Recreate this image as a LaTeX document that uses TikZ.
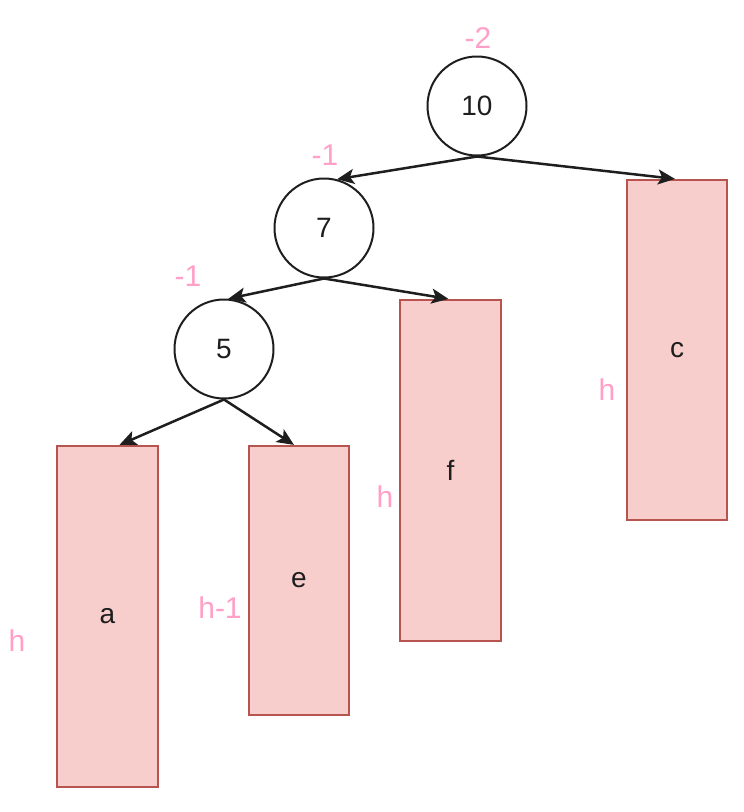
\documentclass[tikz,border=0pt]{standalone}
\usepackage{fontspec}
\setmainfont{Liberation Sans}
\usetikzlibrary{arrows.meta,calc}
\definecolor{rfill}{HTML}{F8CECC}
\definecolor{rdraw}{HTML}{B85450}
\definecolor{pinktext}{RGB}{255,160,200}
\definecolor{ink}{RGB}{30,30,30}
\begin{document}
\begin{tikzpicture}[x=1pt,y=-1pt,
  treenode/.style={circle,draw=ink,line width=2pt,minimum size=99pt,inner sep=0pt,text=ink,font=\fontsize{28}{32}\selectfont},
  subtree/.style={rectangle,draw=rdraw,fill=rfill,line width=2.2pt,inner sep=0pt,text=ink,font=\fontsize{28}{32}\selectfont},
  hlabel/.style={text=pinktext,font=\fontsize{30}{34}\selectfont,inner sep=0pt},
  edge/.style={draw=ink,line width=2.5pt,-{Stealth[length=17pt,width=15pt,inset=4pt]}}]
\useasboundingbox (0,0) rectangle (744,812);
% circles
\node[treenode] (n10) at (477,106) {10};
\node[treenode] (n7) at (324,228) {7};
\node[treenode] (n5) at (224,349) {5};
% subtrees
\node[subtree,minimum width=100pt,minimum height=340pt] (c) at (677,350) {c};
\node[subtree,minimum width=101pt,minimum height=341pt] (f) at (450.5,470.5) {f};
\node[subtree,minimum width=100pt,minimum height=269pt] (e) at (299,580.5) {e};
\node[subtree,minimum width=101pt,minimum height=341pt] (a) at (107.5,616.5) {a};
% labels
\node[hlabel] (l10) at (478,38) {-2};
\node[hlabel] (l7) at (325,155) {-1};
\node[hlabel] (l5) at (188,276) {-1};
\node[hlabel] (hc) at (607,390) {h};
\node[hlabel] (hf) at (385,497) {h};
\node[hlabel] (he) at (220,608) {h-1};
\node[hlabel] (ha) at (17,641) {h};
% edges
\draw[edge] (n10.south) -- (n7.75);
\draw[edge] (n10.south) -- ($(c.north)+(-2,0)$);
\draw[edge] (n7.south) -- (n5.85);
\draw[edge] (n7.south) -- ($(f.north)+(-2,0)$);
\draw[edge] (n5.south) -- ($(a.north)+(12,0)$);
\draw[edge] (n5.south) -- ($(e.north)+(-5,0)$);
\end{tikzpicture}
\end{document}
